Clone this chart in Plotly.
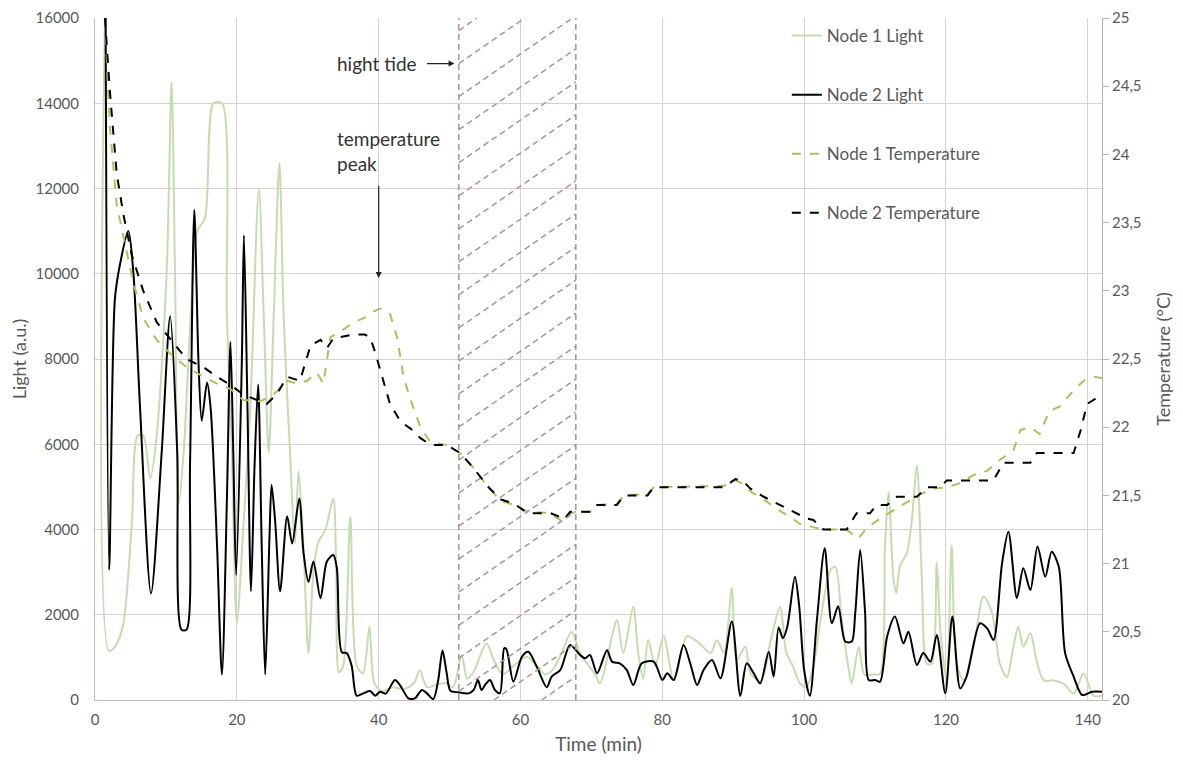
import plotly.graph_objects as go

# ---------------- data ----------------
n2_light_t = [1.5, 2.0, 2.8, 3.5, 4.7, 5.4, 6.35, 7.9, 9.4, 10.6, 11.6, 12.2, 12.9, 13.4, 14.0, 14.6, 15.05, 15.8,
              16.3, 17.2, 17.9, 18.6, 19.1, 19.5, 19.9, 20.7, 21.0, 21.5, 22.0, 22.5, 23.0, 23.5, 24.0, 24.6, 24.9,
              25.4, 26.1, 27.1, 27.8, 28.8, 29.4, 30.1, 30.8, 31.8, 32.7, 33.6, 34.1, 34.8, 35.5, 36.2, 36.9, 37.9,
              38.8, 39.5, 40.2, 41.0, 42.3, 43.0, 44.2, 45.1, 46.1, 46.8, 47.7, 48.4, 49.0, 49.6, 50.1, 51.2, 52.7,
              53.4, 54.0, 54.5, 55.1, 55.7, 56.4, 57.1, 57.7, 58.0, 59.0, 60.2, 61.1, 62.3, 63.7, 64.4, 65.6, 67.0,
              68.4, 69.1, 69.8, 70.8, 72.2, 72.9, 74.0, 75.0, 75.9, 77.1, 78.8, 80.0, 80.7, 81.6, 83.0, 84.0, 84.9,
              85.8, 87.0, 88.2, 89.8, 91.0, 91.9, 92.9, 93.8, 95.0, 95.7, 96.4, 97.0, 97.6, 98.7, 99.3, 100.0, 100.8,
              101.8, 102.9, 103.9, 104.8, 105.8, 106.7, 107.2, 107.9, 108.6, 109.1, 110.0, 110.7, 111.7, 112.8,
              114.0, 114.7, 115.9, 116.8, 117.8, 118.7, 119.9, 120.9, 122.0, 122.9, 124.8, 125.8, 126.7, 127.9,
              128.8, 130.0, 130.9, 131.9, 132.9, 134.0, 134.9, 135.9, 136.8, 138.0, 139.2, 140.6, 142.0]
n2_light_v = [16000, 3050, 9400, 10200, 11000, 10050, 6860, 2500, 5800, 9000, 5800, 1650, 1650, 5500, 11500, 7900,
              6550, 7450, 6860, 3670, 600, 4700, 8400, 5800, 2930, 7900, 10900, 6860, 2550, 5500, 7400, 3670, 600,
              3800, 5050, 4200, 2550, 4310, 3670, 4730, 3460, 2770, 3250, 2390, 3250, 3400, 3100, 1120, 1100, 800,
              100, 160, 210, 100, 195, 150, 470, 350, 40, 40, 235, 156, 20, 470, 1160, 625, 220, 180, 156, 235, 470,
              235, 375, 470, 235, 160, 1210, 1200, 430, 1015, 1130, 780, 300, 550, 700, 1290, 1055, 980, 1055, 625,
              1170, 900, 860, 700, 350, 860, 900, 470, 625, 470, 1290, 820, 350, 700, 940, 510, 1840, 94, 860, 625,
              390, 1130, 550, 1700, 1450, 1700, 2890, 2200, 700, 100, 1880, 3560, 1800, 2200, 1370, 1370, 2030,
              3520, 2030, 470, 470, 430, 1490, 1960, 1330, 1600, 820, 1100, 900, 1525, 156, 1960, 270, 550, 1800,
              1680, 1410, 3200, 3950, 2390, 3090, 2580, 3600, 2890, 3480, 3130, 1100, 550, 117, 195, 195]

n1_light_t = [1.4, 2.0, 3.0, 4.0, 5.2, 6.0, 6.8, 7.8, 8.7, 10.1, 10.8, 11.3, 11.8, 12.5, 13.5, 14.4, 15.5, 16.7,
              17.9, 18.6, 19.3, 20.0, 20.9, 21.9, 23.1, 23.8, 24.5, 25.2, 26.0, 26.6, 27.5, 28.2, 28.7, 29.4, 30.1,
              30.8, 31.5, 32.5, 33.6, 34.0, 34.4, 35.0, 36.0, 36.9, 37.8, 38.7, 39.4, 40.5, 42.0, 43.5, 45.0, 45.8,
              46.8, 48.0, 49.5, 50.5, 51.7, 52.5, 53.5, 55.2, 56.2, 57.5, 59.0, 60.9, 62.3, 63.5, 64.5, 65.8, 67.2,
              68.4, 70.5, 71.2, 72.9, 73.6, 74.5, 75.9, 76.6, 77.3, 78.0, 79.0, 80.2, 81.6, 83.5, 85.4, 86.8, 87.7,
              88.7, 89.8, 90.5, 91.7, 92.5, 93.9, 95.3, 96.6, 97.5, 98.4, 99.4, 100.3, 101.3, 102.3, 103.7, 104.4,
              105.3, 106.3, 106.7, 107.7, 108.5, 109.8, 110.7, 111.4, 111.9, 112.6, 113.0, 113.5, 114.5, 115.2,
              115.9, 116.6, 117.3, 118.0, 118.7, 119.2, 120.1, 120.8, 121.5, 122.5, 123.9, 125.3, 126.5, 127.6,
              128.6, 129.5, 130.2, 130.9, 131.9, 132.8, 133.8, 135.2, 136.6, 138.0, 139.4, 140.8, 142.0]
n1_light_v = [16000, 1150, 1300, 1800, 4150, 6200, 6200, 5200, 6200, 10000, 14500, 9800, 4600, 5800, 9000, 11000,
              11300, 14000, 14000, 9000, 5800, 1800, 4000, 6860, 12000, 9000, 5800, 9000, 12600, 9000, 5800, 3670,
              5370, 3600, 1100, 3000, 3700, 4000, 4730, 3200, 650, 800, 4300, 800, 625, 1720, 390, 200, 300, 250,
              400, 700, 300, 350, 400, 300, 1050, 500, 700, 1330, 950, 600, 800, 1015, 800, 600, 700, 1100, 1600,
              1100, 600, 390, 1490, 1880, 1100, 2190, 1100, 500, 1410, 800, 1500, 470, 1500, 1300, 1100, 1400,
              1100, 2620, 950, 1250, 600, 450, 1400, 2190, 1100, 800, 390, 300, 780, 1880, 3050, 3130, 1880, 700,
              390, 1250, 600, 600, 620, 3620, 4880, 2830, 2510, 3140, 3460, 4250, 5510, 2830, 850, 850, 3220, 1650,
              460, 3620, 850, 460, 1250, 2430, 2040, 850, 540, 1250, 1720, 1250, 1560, 900, 460, 460, 380, 150,
              620, 100, 100]

n2_temp_t = [1.4, 2.1, 3.06, 4.0, 5.2, 6.8, 8.7, 10.6, 12.9, 15.3, 17.2, 19.1, 20.9, 22.8, 24.2, 25.6, 27.1, 28.9,
             30.4, 31.8, 32.7, 33.6, 34.6, 36.5, 38.0, 38.8, 39.5, 40.5, 41.6, 43.1, 44.5, 45.9, 47.3, 49.6, 51.5,
             53.4, 55.3, 57.2, 59.1, 61.0, 64.2, 65.2, 66.1, 67.0, 69.8, 70.8, 73.6, 74.6, 77.9, 78.8, 88.7, 90.3,
             91.5, 92.4, 94.3, 96.2, 98.1, 100.4, 101.3, 102.7, 106.0, 107.4, 109.3, 110.2, 111.7, 113.1, 115.9,
             117.3, 119.2, 120.1, 126.7, 128.1, 131.9, 132.8, 138.0, 139.0, 139.9, 142.0]
n2_temp_v = [25.0, 24.46, 23.86, 23.56, 23.26, 23.0, 22.77, 22.65, 22.50, 22.44, 22.37, 22.31, 22.24, 22.20, 22.17,
             22.24, 22.37, 22.34, 22.60, 22.64, 22.58, 22.65, 22.66, 22.68, 22.68, 22.66, 22.55, 22.37, 22.17,
             22.04, 21.99, 21.92, 21.87, 21.87, 21.81, 21.70, 21.57, 21.47, 21.44, 21.37, 21.37, 21.35, 21.32,
             21.38, 21.38, 21.43, 21.43, 21.50, 21.50, 21.56, 21.56, 21.62, 21.60, 21.55, 21.49, 21.44, 21.39,
             21.33, 21.32, 21.25, 21.25, 21.37, 21.37, 21.43, 21.43, 21.49, 21.49, 21.56, 21.56, 21.61, 21.61,
             21.74, 21.74, 21.81, 21.81, 21.98, 22.17, 22.24]

n1_temp_t = [1.4, 2.1, 3.06, 4.0, 5.4, 6.8, 8.7, 10.6, 12.9, 15.3, 17.2, 19.1, 20.9, 23.3, 25.2, 27.1, 28.5, 29.9,
             31.3, 32.2, 33.2, 34.6, 36.5, 37.9, 39.3, 40.2, 41.6, 42.6, 43.5, 44.5, 45.9, 47.3, 49.6, 51.5, 53.4,
             55.3, 57.2, 59.1, 61.0, 64.2, 65.2, 66.1, 67.0, 69.8, 70.8, 73.6, 74.6, 77.9, 78.8, 88.7, 90.3, 91.5,
             92.4, 94.3, 96.2, 98.1, 99.4, 101.3, 102.7, 106.0, 107.6, 108.8, 110.7, 112.6, 114.5, 116.4, 118.3,
             120.1, 122.0, 123.9, 125.8, 127.6, 129.5, 130.5, 131.9, 133.2, 134.6, 136.0, 138.0, 139.4, 140.8, 142.0]
n1_temp_v = [25.0, 24.2, 23.63, 23.40, 23.06, 22.80, 22.64, 22.54, 22.44, 22.37, 22.32, 22.28, 22.20, 22.19, 22.24,
             22.34, 22.32, 22.34, 22.40, 22.32, 22.66, 22.70, 22.77, 22.80, 22.85, 22.87, 22.83, 22.66, 22.37,
             22.20, 22.00, 21.89, 21.87, 21.81, 21.70, 21.57, 21.46, 21.43, 21.38, 21.37, 21.33, 21.30, 21.37,
             21.38, 21.43, 21.44, 21.50, 21.51, 21.56, 21.57, 21.61, 21.58, 21.53, 21.47, 21.40, 21.34, 21.29,
             21.27, 21.25, 21.25, 21.18, 21.26, 21.33, 21.39, 21.45, 21.51, 21.55, 21.56, 21.59, 21.65, 21.68,
             21.76, 21.83, 21.98, 22.00, 21.95, 22.12, 22.15, 22.27, 22.34, 22.37, 22.36]

x_ticks = [0, 20, 40, 60, 80, 100, 120, 140]
light_ticks = [0, 2000, 4000, 6000, 8000, 10000, 12000, 14000, 16000]
light_labels = [str(v) for v in light_ticks]
temp_ticks = [20, 20.5, 21, 21.5, 22, 22.5, 23, 23.5, 24, 24.5, 25]
temp_labels = ["20", "20,5", "21", "21,5", "22", "22,5", "23", "23,5", "24", "24,5", "25"]

tide_start, tide_end = 51.3, 67.8
peak_time = 40

# ---------------- figure ----------------
FONT = "Lato"
TXT = "#595959"
GRID = "#dccfcf"

fig = go.Figure()
fig.add_trace(go.Scatter(x=n1_light_t, y=n1_light_v, name="Node 1 Light", mode="lines",
                         line=dict(color="#c4ddb0", width=2, shape="spline", smoothing=0.8),
                         legendgroup="a"))
fig.add_trace(go.Scatter(x=n2_light_t, y=n2_light_v, name="Node 2 Light", mode="lines",
                         line=dict(color="#000000", width=2, shape="spline", smoothing=0.8),
                         legendgroup="b"))
fig.add_trace(go.Scatter(x=n1_temp_t, y=n1_temp_v, name="Node 1 Temperature", mode="lines", yaxis="y2",
                         line=dict(color="#a9c35a", width=2, dash="dash"),
                         legendgroup="c"))
fig.add_trace(go.Scatter(x=n2_temp_t, y=n2_temp_v, name="Node 2 Temperature", mode="lines", yaxis="y2",
                         line=dict(color="#000000", width=2, dash="dash"),
                         legendgroup="d"))

# hatched high tide band
HATCH = "#ab9595"
for xv in (tide_start, tide_end):
    fig.add_shape(type="line", x0=xv, x1=xv, y0=0, y1=16000, xref="x", yref="y",
                  line=dict(color=HATCH, width=1.5, dash="6px,4px"), layer="above")
slope = 115.0
spacing = 775.0
b = 14930.0
while b - spacing > -slope * (tide_end - tide_start):
    b -= spacing
while b < 16000:
    xa, ya = tide_start, b
    if ya < 0:
        xa = tide_start + (0 - b) / slope
        ya = 0
    xb, yb = tide_end, b + slope * (tide_end - tide_start)
    if yb > 16000:
        xb = tide_start + (16000 - b) / slope
        yb = 16000
    if xa < xb:
        fig.add_shape(type="line", x0=xa, x1=xb, y0=ya, y1=yb, xref="x", yref="y",
                      line=dict(color=HATCH, width=1.5, dash="6px,4px"), layer="above")
    b += spacing

# annotations
ANN = dict(family=FONT, size=19, color="#333333")
fig.add_annotation(x=33.8, y=14930, xref="x", yref="y", text="hight tide", showarrow=False,
                   xanchor="left", font=ANN)
fig.add_annotation(x=50.7, y=14930, ax=46.6, ay=14930, xref="x", yref="y", axref="x", ayref="y",
                   text="", showarrow=True, arrowhead=2, arrowsize=1, arrowwidth=1.2, arrowcolor="#222222")
fig.add_annotation(x=33.8, y=12870, xref="x", yref="y", text="temperature<br>peak", showarrow=False,
                   xanchor="left", align="left", font=ANN)
fig.add_annotation(x=peak_time, y=9900, ax=peak_time, ay=12100, xref="x", yref="y", axref="x", ayref="y",
                   text="", showarrow=True, arrowhead=2, arrowsize=1, arrowwidth=1.2, arrowcolor="#222222")

fig.update_layout(
    width=1183, height=760,
    margin=dict(l=87, r=89, t=10, b=68, autoexpand=False),
    paper_bgcolor="white", plot_bgcolor="white",
    font=dict(family=FONT, size=15, color=TXT),
    showlegend=True,
    legend=dict(x=0.687, y=1.0, xanchor="left", yanchor="top", bgcolor="rgba(0,0,0,0)",
                tracegroupgap=34, font=dict(family=FONT, size=17, color=TXT)),
    xaxis=dict(range=[0, 142], tickvals=x_ticks, showgrid=True, gridcolor=GRID, gridwidth=1,
               zeroline=False, showline=True, linecolor="#cbbcbc", linewidth=1, ticks="",
               automargin=False, ticklabelstandoff=6,
               title=dict(text="Time (min)", standoff=10, font=dict(size=19, color=TXT)),
               tickfont=dict(size=15, color=TXT)),
    yaxis=dict(range=[0, 16000], tickvals=light_ticks, ticktext=light_labels, showgrid=True,
               gridcolor=GRID, gridwidth=1, automargin=False,
               zeroline=False, showline=True, linecolor="#cbbcbc", linewidth=1, ticks="",
               ticklabelstandoff=12,
               title=dict(text="Light (a.u.)", standoff=8, font=dict(size=18, color=TXT)),
               tickfont=dict(size=15, color=TXT)),
    yaxis2=dict(range=[20, 25], tickvals=temp_ticks, ticktext=temp_labels, overlaying="y", side="right",
                showgrid=False, zeroline=False, showline=True, linecolor="#bfb0b0", linewidth=1,
                ticks="outside", ticklen=6, tickcolor="#bfb0b0", automargin=False,
                title=dict(text="Temperature (°C)", standoff=16, font=dict(size=18, color=TXT)),
                tickfont=dict(size=15, color=TXT)),
)

fig.write_html("out.html")
